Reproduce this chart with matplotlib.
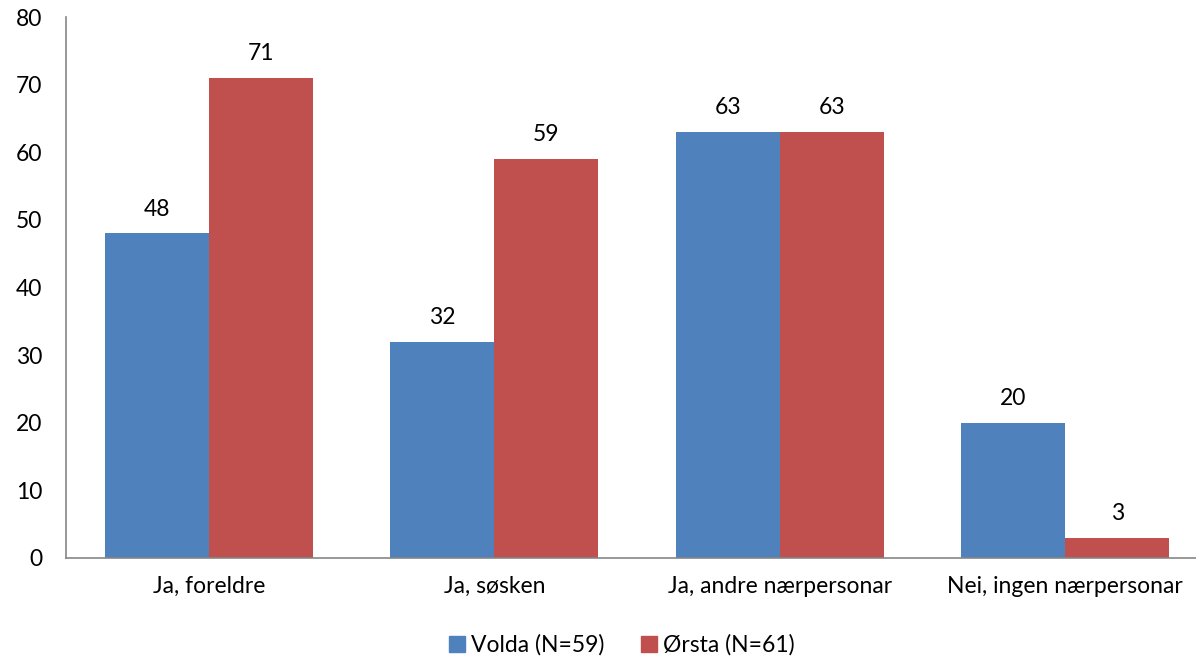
import numpy as np
import matplotlib.pyplot as plt
from matplotlib.patches import Patch

plt.rcParams['font.family'] = ['Lato', 'DejaVu Sans']

categories = ['Ja, foreldre', 'Ja, søsken', 'Ja, andre nærpersonar', 'Nei, ingen nærpersonar']
volda = [48, 32, 63, 20]
orsta = [71, 59, 63, 3]
series_names = ['Volda (N=59)', 'Ørsta (N=61)']
yticks = [0, 10, 20, 30, 40, 50, 60, 70, 80]

blue = '#4F81BD'
red = '#C0504D'
axis_grey = '#868686'
fs = 16.5

fig = plt.figure(figsize=(11.96, 6.64), dpi=100)
ax = fig.add_axes([66 / 1196, 106 / 664, 1142 / 1196, 541 / 664])

x = np.arange(len(categories))
w = 1 / 2.75
b1 = ax.bar(x - w / 2, volda, w, color=blue)
b2 = ax.bar(x + w / 2, orsta, w, color=red)

for bars in (b1, b2):
    for rect in bars:
        h = rect.get_height()
        ax.annotate(f'{h:g}', (rect.get_x() + rect.get_width() / 2, h),
                    xytext=(0, 10), textcoords='offset points',
                    ha='center', va='bottom', fontsize=fs)

ax.set_xlim(-0.5, len(categories) - 0.5)
ax.set_ylim(0, 80)
ax.set_yticks(yticks)
ax.set_xticks(x)
ax.set_xticklabels(categories)
ax.tick_params(axis='both', length=0, labelsize=fs)
ax.tick_params(axis='x', pad=13)
ax.tick_params(axis='y', pad=17)

for side in ('top', 'right'):
    ax.spines[side].set_visible(False)
for side in ('left', 'bottom'):
    ax.spines[side].set_color(axis_grey)
    ax.spines[side].set_linewidth(1.2)

handles = [Patch(color=blue), Patch(color=red)]
fig.legend(handles, series_names, loc='center', bbox_to_anchor=(622 / 1196, 1 - 645 / 664),
           ncol=2, frameon=False, fontsize=fs, handlelength=0.7, handleheight=0.7,
           handletextpad=0.25, columnspacing=1.6)

fig.savefig('out.png', dpi=100)
